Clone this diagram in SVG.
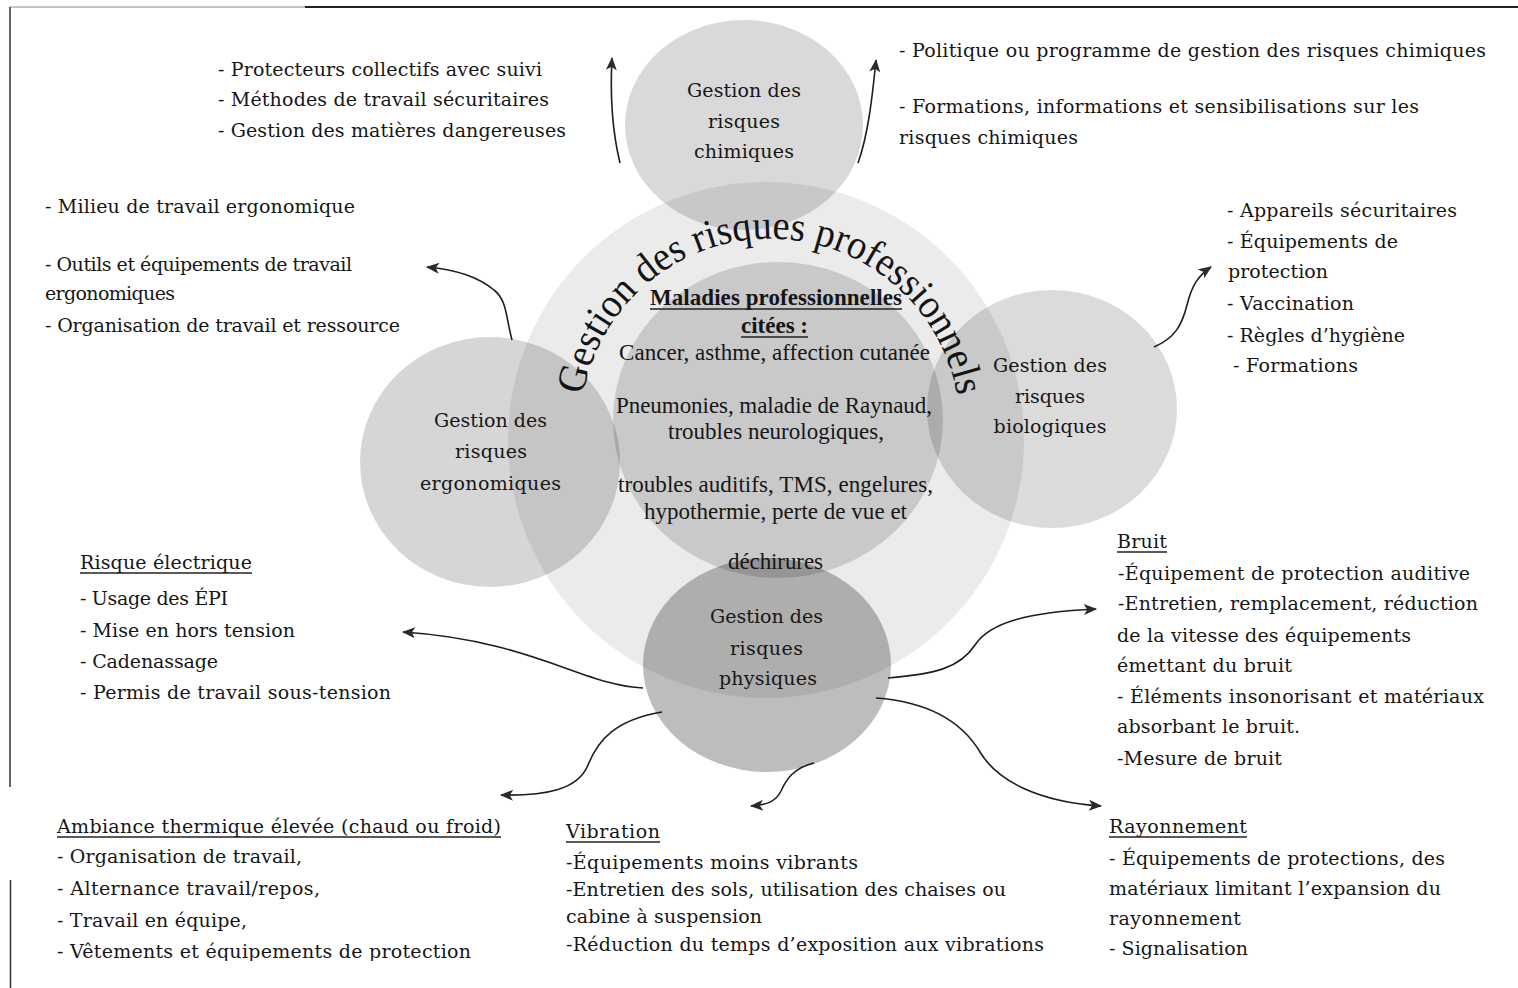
<svg xmlns="http://www.w3.org/2000/svg" width="1518" height="988" viewBox="0 0 1518 988">
  <defs>
    <style>
      .t { font-family: "DejaVu Serif", "Liberation Serif", serif; font-size: 19px; fill: #161616; }
      .m { font-family: "Liberation Serif", "Times New Roman", serif; font-size: 23px; fill: #161616; }
      .b { font-weight: bold; }
      .c { text-anchor: middle; }
      .ul { stroke: #222; stroke-width: 1.3; }
      .disc { fill: #000; }
      #connectors path { fill: none; stroke: #1e1e1e; stroke-width: 1.6; marker-end: url(#ah); }
    </style>
    <marker id="ah" viewBox="0 0 12 10" refX="11" refY="5" markerWidth="14" markerHeight="11" markerUnits="userSpaceOnUse" orient="auto">
      <path d="M0,0 L12,5 L0,10 L3,5 z" fill="#2a2a2a"/>
    </marker>
    <path id="arc" d="M 583 395 A 190 190 0 0 1 957 395"/>
    <clipPath id="pageBottom">
      <rect x="0" y="0" width="1518" height="961"/>
    </clipPath>
  </defs>

  <rect width="1518" height="988" fill="#fff"/>

  <!-- page frame -->
  <g id="frame">
    <line x1="10" y1="7" x2="305" y2="7" stroke="#888" stroke-width="1"/>
    <line x1="305" y1="7" x2="1518" y2="7" stroke="#222" stroke-width="2"/>
    <line x1="10" y1="7" x2="10" y2="787" stroke="#333" stroke-width="1.5"/>
    <line x1="10.5" y1="880" x2="10.5" y2="988" stroke="#333" stroke-width="1.5"/>
  </g>

  <!-- central discs -->
  <g id="outer">
    <circle class="disc" cx="766" cy="440" r="258" fill-opacity="0.08"/>
  </g>
  <g id="inner">
    <ellipse class="disc" cx="778" cy="420" rx="165" ry="158" fill-opacity="0.14"/>
  </g>

  <g id="chimiques">
    <ellipse class="disc" cx="744" cy="125" rx="119" ry="105" fill-opacity="0.15"/>
    <text class="t c" x="744" y="97" textLength="114">Gestion des</text>
    <text class="t c" x="744" y="128" textLength="72">risques</text>
    <text class="t c" x="744" y="158" textLength="100">chimiques</text>
  </g>

  <g id="ergonomiques">
    <ellipse class="disc" cx="490" cy="462" rx="130" ry="125" fill-opacity="0.16"/>
    <text class="t c" x="490.5" y="427" textLength="113">Gestion des</text>
    <text class="t c" x="491" y="458" textLength="72">risques</text>
    <text class="t c" x="490.5" y="490" textLength="141">ergonomiques</text>
  </g>

  <g id="biologiques">
    <ellipse class="disc" cx="1052" cy="409" rx="125" ry="119" fill-opacity="0.14"/>
    <text class="t c" x="1050" y="372" textLength="114">Gestion des</text>
    <text class="t c" x="1050" y="403" textLength="70">risques</text>
    <text class="t c" x="1050" y="433" textLength="113">biologiques</text>
  </g>

  <g id="physiques">
    <ellipse class="disc" cx="767" cy="665" rx="124" ry="107" fill-opacity="0.26"/>
    <text class="t c" x="766.5" y="623" textLength="113">Gestion des</text>
    <text class="t c" x="766.5" y="655" textLength="73">risques</text>
    <text class="t c" x="768" y="685" textLength="98">physiques</text>
  </g>

  <!-- curved title around the inner disc -->
  <g id="titre">
    <text font-family="'Liberation Serif', 'Times New Roman', serif" font-size="41" fill="#141414">
      <textPath href="#arc" textLength="530" lengthAdjust="spacingAndGlyphs">Gestion des risques professionnels</textPath>
    </text>
  </g>

  <!-- occupational diseases -->
  <g id="maladies">
    <text class="m b c" x="776" y="305" textLength="252">Maladies professionnelles</text>
    <line class="ul" x1="650" y1="309" x2="902" y2="309"/>
    <text class="m b c" x="774.5" y="333" textLength="67">citées :</text>
    <line class="ul" x1="741" y1="337" x2="808" y2="337"/>
    <text class="m c" x="774.5" y="360" textLength="311">Cancer, asthme, affection cutanée</text>
    <text class="m c" x="774" y="413" textLength="316">Pneumonies, maladie de Raynaud,</text>
    <text class="m c" x="776" y="439" textLength="216">troubles neurologiques,</text>
    <text class="m c" x="775.5" y="492" textLength="315">troubles auditifs, TMS, engelures,</text>
    <text class="m c" x="775.5" y="519" textLength="263">hypothermie, perte de vue et</text>
    <text class="m c" x="775.5" y="569" textLength="95">déchirures</text>
  </g>

  <!-- measures per risk -->
  <g id="mesures-chimiques-gauche">
    <text class="t" x="218" y="76" textLength="324">- Protecteurs collectifs avec suivi</text>
    <text class="t" x="218" y="106" textLength="331">- Méthodes de travail sécuritaires</text>
    <text class="t" x="218" y="137" textLength="348">- Gestion des matières dangereuses</text>
  </g>

  <g id="mesures-chimiques-droite">
    <text class="t" x="899" y="57" textLength="587">- Politique ou programme de gestion des risques chimiques</text>
    <text class="t" x="899" y="113" textLength="520">- Formations, informations et sensibilisations sur les</text>
    <text class="t" x="899" y="144" textLength="179">risques chimiques</text>
  </g>

  <g id="mesures-ergonomiques">
    <text class="t" x="45" y="213" textLength="310">- Milieu de travail ergonomique</text>
    <text class="t" x="45" y="271" textLength="307">- Outils et équipements de travail</text>
    <text class="t" x="45" y="300" textLength="130">ergonomiques</text>
    <text class="t" x="45" y="332" textLength="355">- Organisation de travail et ressource</text>
  </g>

  <g id="mesures-biologiques">
    <text class="t" x="1227" y="217" textLength="230">- Appareils sécuritaires</text>
    <text class="t" x="1227" y="248" textLength="171">- Équipements de</text>
    <text class="t" x="1228" y="278" textLength="100">protection</text>
    <text class="t" x="1227" y="310" textLength="127">- Vaccination</text>
    <text class="t" x="1227" y="342" textLength="178">- Règles d’hygiène</text>
    <text class="t" x="1233" y="372" textLength="125">- Formations</text>
  </g>

  <g id="risque-electrique">
    <text class="t" x="80" y="569" textLength="172">Risque électrique</text>
    <line class="ul" x1="80" y1="573" x2="252" y2="573"/>
    <text class="t" x="80" y="605" textLength="148">- Usage des ÉPI</text>
    <text class="t" x="80" y="637" textLength="215">- Mise en hors tension</text>
    <text class="t" x="80" y="668" textLength="138">- Cadenassage</text>
    <text class="t" x="80" y="699" textLength="311">- Permis de travail sous-tension</text>
  </g>

  <g id="ambiance-thermique" clip-path="url(#pageBottom)">
    <text class="t" x="57" y="833" textLength="444">Ambiance thermique élevée (chaud ou froid)</text>
    <line class="ul" x1="57" y1="837" x2="501" y2="837"/>
    <text class="t" x="57" y="863" textLength="245">- Organisation de travail,</text>
    <text class="t" x="57" y="895" textLength="263">- Alternance travail/repos,</text>
    <text class="t" x="57" y="927" textLength="190">- Travail en équipe,</text>
    <text class="t" x="57" y="958" textLength="414">- Vêtements et équipements de protection</text>
  </g>

  <g id="vibration">
    <text class="t" x="566" y="838" textLength="94">Vibration</text>
    <line class="ul" x1="566" y1="842" x2="660" y2="842"/>
    <text class="t" x="566" y="869" textLength="292">-Équipements moins vibrants</text>
    <text class="t" x="566" y="896" textLength="440">-Entretien des sols, utilisation des chaises ou</text>
    <text class="t" x="566" y="923" textLength="196">cabine à suspension</text>
    <text class="t" x="566" y="951" textLength="478">-Réduction du temps d’exposition aux vibrations</text>
  </g>

  <g id="bruit">
    <text class="t" x="1117" y="548" textLength="50">Bruit</text>
    <line class="ul" x1="1117" y1="552" x2="1167" y2="552"/>
    <text class="t" x="1118" y="580" textLength="352">-Équipement de protection auditive</text>
    <text class="t" x="1118" y="610" textLength="360">-Entretien, remplacement, réduction</text>
    <text class="t" x="1117" y="642" textLength="294">de la vitesse des équipements</text>
    <text class="t" x="1117" y="672" textLength="175">émettant du bruit</text>
    <text class="t" x="1117" y="703" textLength="367">- Éléments insonorisant et matériaux</text>
    <text class="t" x="1117" y="733" textLength="183">absorbant le bruit.</text>
    <text class="t" x="1117" y="765" textLength="165">-Mesure de bruit</text>
  </g>

  <g id="rayonnement">
    <text class="t" x="1109" y="833" textLength="138">Rayonnement</text>
    <line class="ul" x1="1109" y1="837" x2="1247" y2="837"/>
    <text class="t" x="1109" y="865" textLength="336">- Équipements de protections, des</text>
    <text class="t" x="1109" y="895" textLength="332">matériaux limitant l’expansion du</text>
    <text class="t" x="1109" y="925" textLength="132">rayonnement</text>
    <text class="t" x="1109" y="955" textLength="139">- Signalisation</text>
  </g>

  <!-- connectors -->
  <g id="connectors">
    <path d="M 620 163 C 612 130, 610 95, 612 58"/>
    <path d="M 858 163 C 868 135, 872 100, 876 60"/>
    <path d="M 512 340 C 506 318, 507 300, 494 290 C 478 277, 458 270, 427 267"/>
    <path d="M 1154 347 C 1175 338, 1182 325, 1187 305 C 1192 285, 1198 276, 1211 267"/>
    <path d="M 643 688 C 585 686, 530 640, 403 632"/>
    <path d="M 662 712 C 615 720, 598 740, 588 765 C 578 790, 545 796, 501 795"/>
    <path d="M 814 763 C 793 768, 786 780, 781 791 C 776 801, 768 805, 751 806"/>
    <path d="M 888 678 C 935 674, 960 668, 975 645 C 990 622, 1030 612, 1096 609"/>
    <path d="M 876 698 C 930 702, 962 722, 980 752 C 998 782, 1040 802, 1101 806"/>
  </g>
</svg>
